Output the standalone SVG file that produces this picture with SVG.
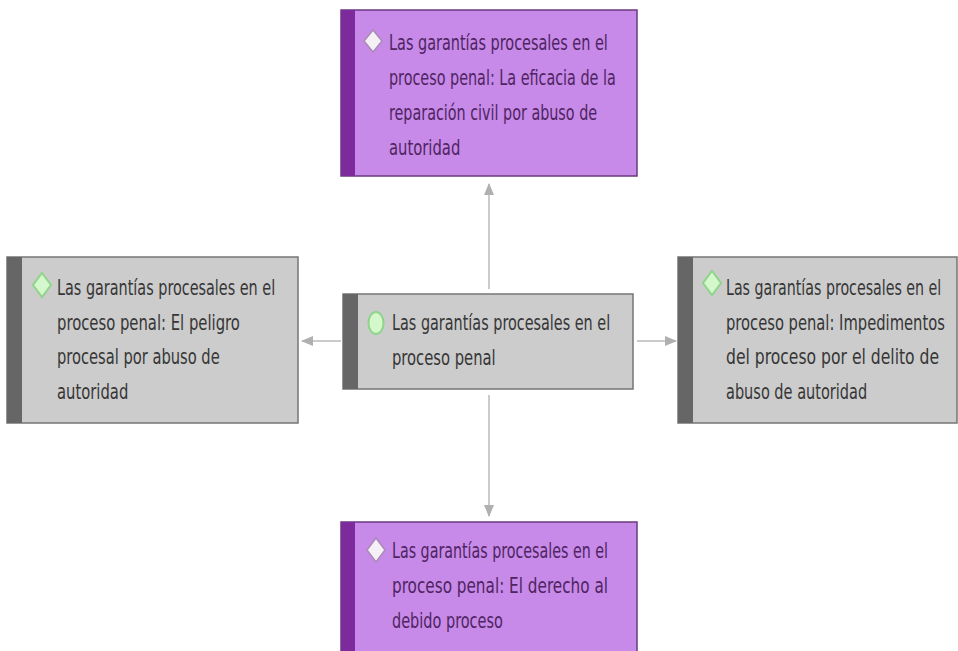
<svg xmlns="http://www.w3.org/2000/svg" width="958" height="651" viewBox="0 0 958 651">
<defs>
<style>
.pbox{fill:#c78ae8;stroke:#6b3a80;stroke-width:1.5}
.pbar{fill:#7d2a9c}
.gbox{fill:#cccccc;stroke:#757575;stroke-width:1.5}
.gbar{fill:#666666}
.t{font-family:"DejaVu Sans Condensed","DejaVu Sans","Liberation Sans",sans-serif;font-size:22px}
.pt{fill:#4f2463}
.gt{fill:#363636}
.pd{fill:#f4f0f6;stroke:#a98ab6;stroke-width:1.5}
.gd{fill:#d4f7cc;stroke:#8fd48a;stroke-width:2}
.conn{stroke:#cbcbcb;stroke-width:2;fill:none}
</style>
<marker id="arr" viewBox="0 0 12 12" refX="11" refY="6" markerWidth="12" markerHeight="12" markerUnits="userSpaceOnUse" orient="auto">
<path d="M0,1 L12,6 L0,11 Z" fill="#b0b0b0"/>
</marker>
</defs>
<rect width="958" height="651" fill="#ffffff"/>
<g id="connectors">
<line class="conn" x1="489" y1="289" x2="489" y2="184" marker-end="url(#arr)"/>
<line class="conn" x1="489" y1="395" x2="489" y2="516" marker-end="url(#arr)"/>
<line class="conn" x1="341" y1="341" x2="302" y2="341" marker-end="url(#arr)"/>
<line class="conn" x1="637" y1="341" x2="676" y2="341" marker-end="url(#arr)"/>
</g>
<g id="node-top">
<rect class="pbox" x="341" y="10" width="296" height="166"/>
<rect class="pbar" x="341" y="10" width="14" height="166"/>
<path class="pd" d="M373,30 L382,41 L373,52 L364,41 Z"/>
<text class="t pt" transform="translate(389,50) scale(0.72,1)" textLength="304" lengthAdjust="spacingAndGlyphs">Las garantías procesales en el</text>
<text class="t pt" transform="translate(389,85) scale(0.72,1)" textLength="315" lengthAdjust="spacingAndGlyphs">proceso penal: La eficacia de la</text>
<text class="t pt" transform="translate(389,120) scale(0.72,1)" textLength="289" lengthAdjust="spacingAndGlyphs">reparación civil por abuso de</text>
<text class="t pt" transform="translate(389,155) scale(0.72,1)" textLength="99" lengthAdjust="spacingAndGlyphs">autoridad</text>
</g>
<g id="node-left">
<rect class="gbox" x="7" y="257" width="291" height="166"/>
<rect class="gbar" x="7" y="257" width="15" height="166"/>
<path class="gd" d="M42,273 L51,285 L42,297 L33,285 Z"/>
<text class="t gt" transform="translate(57,295) scale(0.72,1)" textLength="303" lengthAdjust="spacingAndGlyphs">Las garantías procesales en el</text>
<text class="t gt" transform="translate(57,330) scale(0.72,1)" textLength="254" lengthAdjust="spacingAndGlyphs">proceso penal: El peligro</text>
<text class="t gt" transform="translate(57,364) scale(0.72,1)" textLength="226" lengthAdjust="spacingAndGlyphs">procesal por abuso de</text>
<text class="t gt" transform="translate(57,399) scale(0.72,1)" textLength="99" lengthAdjust="spacingAndGlyphs">autoridad</text>
</g>
<g id="node-center">
<rect class="gbox" x="343" y="294" width="290" height="95"/>
<rect class="gbar" x="343" y="294" width="15" height="95"/>
<ellipse class="gd" cx="376" cy="323" rx="7.5" ry="11"/>
<text class="t gt" transform="translate(392,330) scale(0.72,1)" textLength="303" lengthAdjust="spacingAndGlyphs">Las garantías procesales en el</text>
<text class="t gt" transform="translate(392,365) scale(0.72,1)" textLength="144" lengthAdjust="spacingAndGlyphs">proceso penal</text>
</g>
<g id="node-right">
<rect class="gbox" x="678" y="257" width="279" height="166"/>
<rect class="gbar" x="678" y="257" width="15" height="166"/>
<path class="gd" d="M712,271 L721,283 L712,295 L703,283 Z"/>
<text class="t gt" transform="translate(726,295) scale(0.72,1)" textLength="299" lengthAdjust="spacingAndGlyphs">Las garantías procesales en el</text>
<text class="t gt" transform="translate(726,330) scale(0.72,1)" textLength="304" lengthAdjust="spacingAndGlyphs">proceso penal: Impedimentos</text>
<text class="t gt" transform="translate(726,364) scale(0.72,1)" textLength="296" lengthAdjust="spacingAndGlyphs">del proceso por el delito de</text>
<text class="t gt" transform="translate(726,399) scale(0.72,1)" textLength="196" lengthAdjust="spacingAndGlyphs">abuso de autoridad</text>
</g>
<g id="node-bottom">
<rect class="pbox" x="341" y="522" width="296" height="140"/>
<rect class="pbar" x="341" y="522" width="14" height="140"/>
<path class="pd" d="M376,538 L385,550 L376,562 L367,550 Z"/>
<text class="t pt" transform="translate(392,558) scale(0.72,1)" textLength="300" lengthAdjust="spacingAndGlyphs">Las garantías procesales en el</text>
<text class="t pt" transform="translate(392,593) scale(0.72,1)" textLength="300" lengthAdjust="spacingAndGlyphs">proceso penal: El derecho al</text>
<text class="t pt" transform="translate(392,628) scale(0.72,1)" textLength="154" lengthAdjust="spacingAndGlyphs">debido proceso</text>
</g>
</svg>
